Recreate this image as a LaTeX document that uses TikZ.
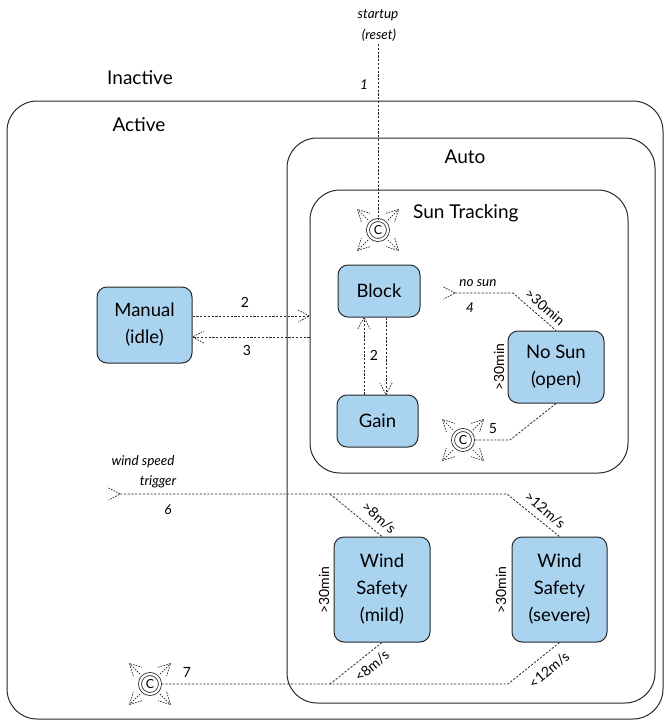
\documentclass[tikz,border=0pt]{standalone}
\usepackage{fontspec}
\setmainfont{Lato}
\usetikzlibrary{calc}
\definecolor{boxblue}{RGB}{170,211,240}
\definecolor{ink}{RGB}{40,40,40}
\tikzset{
 state/.style={draw=ink, line width=1pt, fill=boxblue, rounded corners=10pt, align=center, font=\fontsize{18.5}{27}\selectfont, inner sep=0pt},
 container/.style={draw=ink, line width=1pt, rounded corners=30pt, inner sep=0pt},
 title/.style={font=\fontsize{19}{22}\selectfont, inner sep=0pt},
 evt/.style={font=\fontsize{13.5}{15}\selectfont\itshape, inner sep=0pt},
 num/.style={font=\fontsize{14}{15}\selectfont, inner sep=0pt},
 guard/.style={font=\fontsize{14}{15}\selectfont, inner sep=0pt},
 trans/.style={draw=ink, line width=0.8pt, dash pattern=on 2.2pt off 1.6pt},
 chev/.style={draw=ink, line width=0.7pt, dash pattern=on 1.6pt off 1.2pt},
 pseudo/.style={circle, draw=ink, line width=0.8pt, double, double distance=2.2pt, minimum size=20pt, inner sep=0pt, font=\fontsize{12.5}{12.5}\selectfont},
}
\newcommand{\chevat}[2]{\draw[chev] ($#1+(#2+152:13)$) -- #1 -- ($#1+(#2-152:13)$);}
\newcommand{\rays}[1]{\foreach \a in {45,135,225,315}{%
  \coordinate (rayend) at ($(#1)+(\a:29)$);
  \draw[chev] ($(#1)+(\a:14)$) -- (rayend);
  \chevat{(rayend)}{\a}}}
\begin{document}
\begin{tikzpicture}[x=1pt,y=1pt]
\useasboundingbox (0,0) rectangle (670,-724);
% containers
\node[container, minimum width=656pt, minimum height=618pt] (active) at (335,-410) {};
\node[container, minimum width=368pt, minimum height=565pt] (auto) at (471,-420.5) {};
\node[container, minimum width=318pt, minimum height=283pt] (suntrack) at (469,-331.5) {};
\node[title] (tinactive) at (140,-78) {Inactive};
\node[title] (tactive) at (139,-125) {Active};
\node[title] (tauto) at (465,-157) {Auto};
\node[title, anchor=west] (tsun) at (413,-213) {Sun Tracking};
% states
\node[state, minimum width=95pt, minimum height=76pt] (manual) at (144.5,-325) {Manual\\(idle)};
\node[state, minimum width=82pt, minimum height=52pt] (block) at (379,-291) {Block};
\node[state, minimum width=81pt, minimum height=52pt] (gain) at (377.5,-421) {Gain};
\node[state, minimum width=96pt, minimum height=72pt] (nosun) at (556,-367) {No Sun\\(open)};
\node[state, minimum width=96pt, minimum height=105pt] (mild) at (382,-589.5) {Wind\\Safety\\(mild)};
\node[state, minimum width=95pt, minimum height=105pt] (severe) at (559.5,-589.5) {Wind\\Safety\\(severe)};
% pseudostates
\node[pseudo] (c1) at (378,-230) {C};
\node[pseudo] (c2) at (463,-440) {C};
\node[pseudo] (c3) at (150,-684) {C};
\rays{c1}
\rays{c2}
\rays{c3}
% 1 startup
\coordinate (s0) at (378,-44);
\draw[trans] (s0) -- (c1.north);
\node[evt] (lstart) at (378,-15) {startup};
\node[evt] (lreset) at (379,-35) {(reset)};
\node[evt] (l1) at (364,-85) {1};
% 2 / 3
\draw[trans] ([yshift=9pt]manual.east) -- ([yshift=9pt]manual.east -| suntrack.west) coordinate (h2);
\chevat{(h2)}{0}
\draw[trans] ([yshift=-12pt]manual.east -| suntrack.west) -- ([yshift=-12pt]manual.east) coordinate (h3);
\chevat{(h3)}{180}
\node[num] (l2) at (245,-302) {2};
\node[num] (l3) at (247,-350) {3};
% block <-> gain
\draw[trans] ([xshift=-15pt]block.south |- gain.north) -- ([xshift=-15pt]block.south) coordinate (h4);
\chevat{(h4)}{90}
\draw[trans] ([xshift=7pt]block.south) -- ([xshift=7pt]block.south |- gain.north) coordinate (h5);
\chevat{(h5)}{-90}
\node[num] (l2b) at (374,-355) {2};
% 4 no sun
\coordinate (t4) at (455,-293);
\coordinate (k4) at (513,-293);
\draw[trans] (t4) -- (k4) -- (nosun.north);
\chevat{(t4)}{0}
\node[evt] (lnosun) at (478,-283) {no sun};
\node[evt] (l4) at (470,-308) {4};
\node[guard, rotate=-41] (g4) at (545,-307) {>30min};
\node[guard, rotate=90] (g4b) at (499,-367) {>30min};
% 5
\coordinate (k5) at (510,-440);
\draw[trans] (nosun.south) -- (k5) -- (c2.east);
\node[num] (l5) at (493,-429) {5};
% 6 wind
\coordinate (t6) at (120,-494);
\coordinate (k6a) at (330,-494);
\coordinate (k6b) at (507,-494);
\draw[trans] (t6) -- (k6b) -- (severe.north);
\draw[trans] (k6a) -- (mild.north);
\chevat{(t6)}{0}
\node[evt] (lwind) at (143,-462) {wind speed};
\node[evt] (ltrig) at (158,-482) {trigger};
\node[evt] (l6) at (168,-510) {6};
\node[guard, rotate=-41] (g6a) at (379,-518) {>8m/s};
\node[guard, rotate=-40] (g6b) at (545,-510) {>12m/s};
\node[guard, rotate=90] (gm) at (324,-590) {>30min};
\node[guard, rotate=90] (gs) at (501,-590) {>30min};
% 7
\coordinate (k7a) at (330,-684);
\coordinate (k7b) at (508,-684);
\draw[trans] (severe.south) -- (k7b) -- (c3.east);
\draw[trans] (mild.south) -- (k7a);
\node[num] (l7) at (187,-672) {7};
\node[guard, rotate=40] (g7a) at (372,-666) {<8m/s};
\node[guard, rotate=40] (g7b) at (549,-670) {<12m/s};
\end{tikzpicture}
\end{document}
